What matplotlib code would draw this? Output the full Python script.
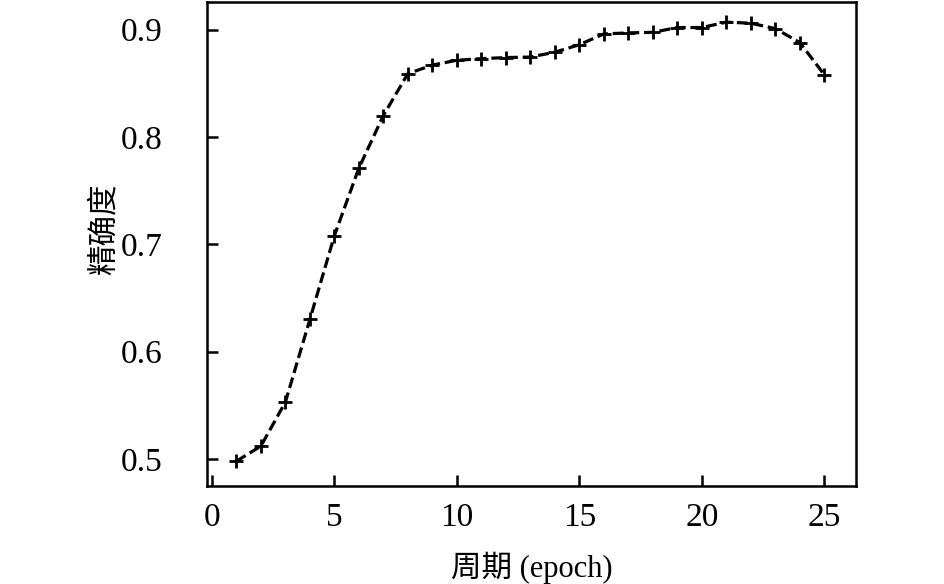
import numpy as np
import matplotlib.pyplot as plt

# accuracy per epoch
epochs = list(range(1, 26))
accuracy = [0.498, 0.512, 0.553, 0.630, 0.708, 0.771, 0.820, 0.859, 0.867, 0.8715,
            0.873, 0.874, 0.8745, 0.879, 0.886, 0.896, 0.897, 0.8975, 0.902, 0.902,
            0.907, 0.906, 0.901, 0.888, 0.858]
xticks = [0, 5, 10, 15, 20, 25]
yticks = [0.5, 0.6, 0.7, 0.8, 0.9]

fonts = ['Liberation Serif', 'Noto Sans CJK SC']
plt.rcParams['font.family'] = fonts

fig = plt.figure(figsize=(9.45, 5.84), dpi=100)
ax = fig.add_axes([0.219, 0.168, 0.687, 0.829])

ax.plot(epochs, accuracy, color='black', linestyle='--', linewidth=2.3,
        dashes=(3.4, 1.5), marker='+', markersize=10, markeredgewidth=2.0)

ax.set_xlim(-0.2, 26.3)
ax.set_ylim(0.475, 0.926)
ax.set_xticks(xticks)
ax.set_yticks(yticks)
ax.set_yticklabels([f"{v:.1f}" for v in yticks])
ax.tick_params(direction='in', length=8, width=1.8, labelsize=24)
ax.tick_params(axis='x', pad=12)
ax.tick_params(axis='y', pad=32)
for s in ax.spines.values():
    s.set_linewidth(1.8)

ax.set_xlabel('周期 (epoch)', fontsize=22, family=fonts)
ax.set_ylabel('精确度', fontsize=22, family=fonts)
ax.xaxis.set_label_coords(0.5, -0.135)
ax.yaxis.set_label_coords(-0.135, 0.53)

fig.savefig('out.png', dpi=100)
